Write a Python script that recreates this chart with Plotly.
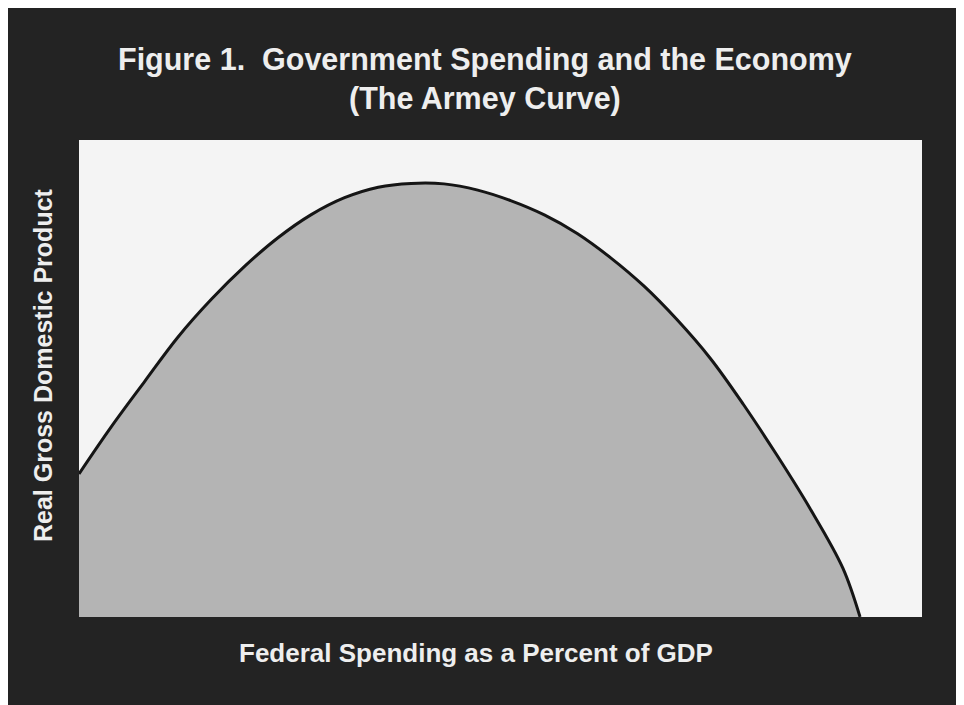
import plotly.graph_objects as go

# Curve (arbitrary 0-100 scales; the chart has no ticks)
spending = [0, 3.8, 7.8, 11.7, 15.7, 19.7, 23.6, 27.5, 31.5, 35.5, 39.4, 43.3, 47.3,
            51.2, 55.2, 59.1, 63.0, 67.0, 70.9, 74.9, 78.8, 82.8, 86.7, 90.6, 92.65]
real_gdp = [30.0, 39.8, 49.4, 58.6, 66.6, 73.6, 79.5, 84.3, 87.9, 90.1, 90.9, 90.8, 89.5,
            87.3, 84.3, 80.4, 75.4, 69.4, 62.4, 54.2, 44.6, 33.9, 22.8, 10.3, 0]

title_line1 = "Figure 1.\u00a0 Government Spending and the Economy"
title_line2 = "(The Armey Curve)"
x_label = "Federal Spending as a Percent of GDP"
y_label = "Real Gross Domestic Product"

DARK = "#232323"
TEXT = "#eeeeee"
FONT = "Liberation Sans, Arial, sans-serif"

fig = go.Figure()
fig.add_trace(go.Scatter(
    x=spending, y=real_gdp, mode="lines",
    line=dict(color="#151515", width=3, shape="spline", smoothing=1.0),
    fill="tozeroy", fillcolor="#b4b4b4", hoverinfo="skip", showlegend=False,
))

fig.update_layout(
    width=964, height=705,
    margin=dict(l=71, r=50, t=132, b=96),
    paper_bgcolor=DARK, plot_bgcolor="#f4f4f4",
    xaxis=dict(range=[0, 100], visible=False, fixedrange=True),
    yaxis=dict(range=[0, 100], visible=False, fixedrange=True),
    showlegend=False,
)

# helpers: reference-image pixel -> paper coordinates of the plot area
def px_x(px):
    return (px - 79) / 843

def px_y(py):
    return (617 - py) / 477

fig.add_annotation(text=f"<b>{title_line1}</b>", xref="paper", yref="paper",
                   x=px_x(485), y=px_y(60), xanchor="center", yanchor="middle",
                   showarrow=False, font=dict(family=FONT, size=30.5, color=TEXT))
fig.add_annotation(text=f"<b>{title_line2}</b>", xref="paper", yref="paper",
                   x=px_x(485), y=px_y(98), xanchor="center", yanchor="middle",
                   showarrow=False, font=dict(family=FONT, size=30.5, color=TEXT))
fig.add_annotation(text=f"<b>{x_label}</b>", xref="paper", yref="paper",
                   x=px_x(476), y=px_y(653), xanchor="center", yanchor="middle",
                   showarrow=False, font=dict(family=FONT, size=26, color=TEXT))
fig.add_annotation(text=f"<b>{y_label}</b>", xref="paper", yref="paper",
                   x=px_x(43), y=px_y(365), xanchor="center", yanchor="middle",
                   textangle=-90, showarrow=False,
                   font=dict(family=FONT, size=25, color=TEXT))

fig.write_html("out.html")
